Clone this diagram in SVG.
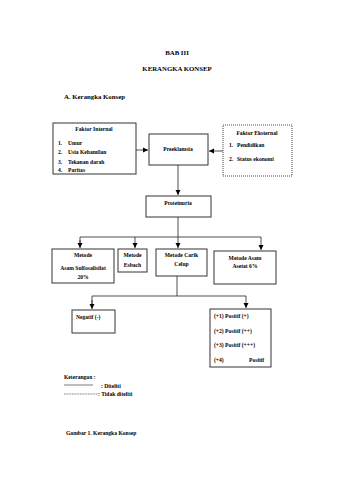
<svg xmlns="http://www.w3.org/2000/svg" width="339" height="480" viewBox="0 0 339 480">
<defs>
<marker id="ah" markerWidth="6" markerHeight="6" refX="5" refY="3" orient="auto" markerUnits="userSpaceOnUse">
<path d="M0,0.5 L5,3 L0,5.5 Z" fill="#000"/>
</marker>
<style>
text{font-family:"Liberation Serif","Times New Roman",serif;font-weight:bold;fill:#000}
.h{font-size:6.8px}
.t{font-size:5.6px}
.c{text-anchor:middle}
.box{fill:#fff;stroke:#333;stroke-width:1}
.line{fill:none;stroke:#222;stroke-width:0.8}
</style>
</defs>
<rect width="339" height="480" fill="#fff"/>
<text class="h c" x="177" y="55">BAB III</text>
<text class="h c" x="177" y="71">KERANGKA KONSEP</text>
<text class="h" x="64" y="99">A.  Kerangka Konsep</text>

<g id="connectors">
<line class="line" x1="136" y1="150" x2="148" y2="150" marker-end="url(#ah)"/>
<line class="line" x1="223" y1="151" x2="209" y2="151" marker-end="url(#ah)"/>
<line class="line" x1="178" y1="165" x2="178" y2="195" marker-end="url(#ah)"/>
<line class="line" x1="178" y1="217" x2="178" y2="248" marker-end="url(#ah)"/>
<polyline class="line" points="80,244 80,237 261,237 261,250" marker-end="url(#ah)"/>
<line class="line" x1="80" y1="240" x2="80" y2="248" marker-end="url(#ah)"/>
<line class="line" x1="135" y1="237" x2="135" y2="248" marker-end="url(#ah)"/>
<line class="line" x1="177" y1="276" x2="177" y2="296"/>
<polyline class="line" points="92,306 92,296 246,296 246,308" marker-end="url(#ah)"/>
<line class="line" x1="92" y1="300" x2="92" y2="309" marker-end="url(#ah)"/>
</g>

<g id="faktor-internal">
<rect class="box" x="53" y="123" width="83" height="51"/>
<text class="t c" x="94" y="131">Faktor Internal</text>
<text class="t" x="58" y="145">1.</text><text class="t" x="68" y="145">Umur</text>
<text class="t" x="58" y="154">2.</text><text class="t" x="68" y="154">Usia Kehamilan</text>
<text class="t" x="58" y="164">3.</text><text class="t" x="68" y="164">Tekanan darah</text>
<text class="t" x="58" y="172">4.</text><text class="t" x="68" y="172">Paritas</text>
</g>

<g id="preeklamsia">
<rect class="box" x="149" y="134" width="59" height="31"/>
<text class="t c" x="178" y="151">Preeklamsia</text>
</g>

<g id="faktor-eksternal">
<rect x="223" y="125" width="69" height="51" fill="#fff" stroke="#333" stroke-width="0.9" stroke-dasharray="1,1"/>
<text class="t c" x="257" y="135">Faktor Eksternal</text>
<text class="t" x="229" y="147">1.</text><text class="t" x="237" y="147">Pendidikan</text>
<text class="t" x="229" y="161">2.</text><text class="t" x="237" y="161">Status ekonomi</text>
</g>

<g id="proteinuria">
<rect class="box" x="146" y="196" width="65" height="21" stroke-width="1.2"/>
<text class="t c" x="178" y="205">Proteinuria</text>
</g>

<g id="metode-sulfosalisilat">
<rect class="box" x="52" y="249" width="62" height="34" stroke="#888"/>
<text class="t c" x="83" y="257">Metode</text>
<text class="t c" x="83" y="270">Asam Sulfosalisilat</text>
<text class="t c" x="83" y="279">20%</text>
</g>

<g id="metode-esbach">
<rect class="box" x="118" y="249" width="29" height="23" stroke="#888"/>
<text class="t c" x="132.5" y="257">Metode</text>
<text class="t c" x="132.5" y="267">Esbach</text>
</g>

<g id="metode-carik">
<rect class="box" x="156" y="249" width="51" height="27" stroke-width="1.3"/>
<text class="t c" x="181.5" y="257">Metode Carik</text>
<text class="t c" x="181.5" y="266">Celup</text>
</g>

<g id="metode-asetat">
<rect class="box" x="214" y="251" width="62" height="33" stroke="#999"/>
<text class="t c" x="245" y="260">Metode Asam</text>
<text class="t c" x="245" y="268">Asetat 6%</text>
</g>

<g id="negatif">
<rect class="box" x="72" y="310" width="43" height="23"/>
<text class="t" x="76" y="319">Negatif  (-)</text>
</g>

<g id="positif">
<rect class="box" x="210" y="309" width="61" height="58"/>
<text class="t" x="214" y="318">(+1) Positif (+)</text>
<text class="t" x="214" y="333">(+2) Positif (++)</text>
<text class="t" x="214" y="347">(+3) Positif (+++)</text>
<text class="t" x="214" y="362">(+4)</text>
<text class="t" x="249" y="362">Positif</text>
</g>

<g id="legend">
<text class="t" x="64" y="379">Keterangan :</text>
<line x1="64" y1="385" x2="93" y2="385" stroke="#222" stroke-width="0.6"/>
<text class="t" x="101" y="388">: Diteliti</text>
<line x1="64" y1="394" x2="98" y2="394" stroke="#222" stroke-width="0.6" stroke-dasharray="1,0.6"/>
<text class="t" x="98" y="396">: Tidak diteliti</text>
</g>

<text class="t" x="66" y="435">Gambar 1. Kerangka Konsep</text>
</svg>
